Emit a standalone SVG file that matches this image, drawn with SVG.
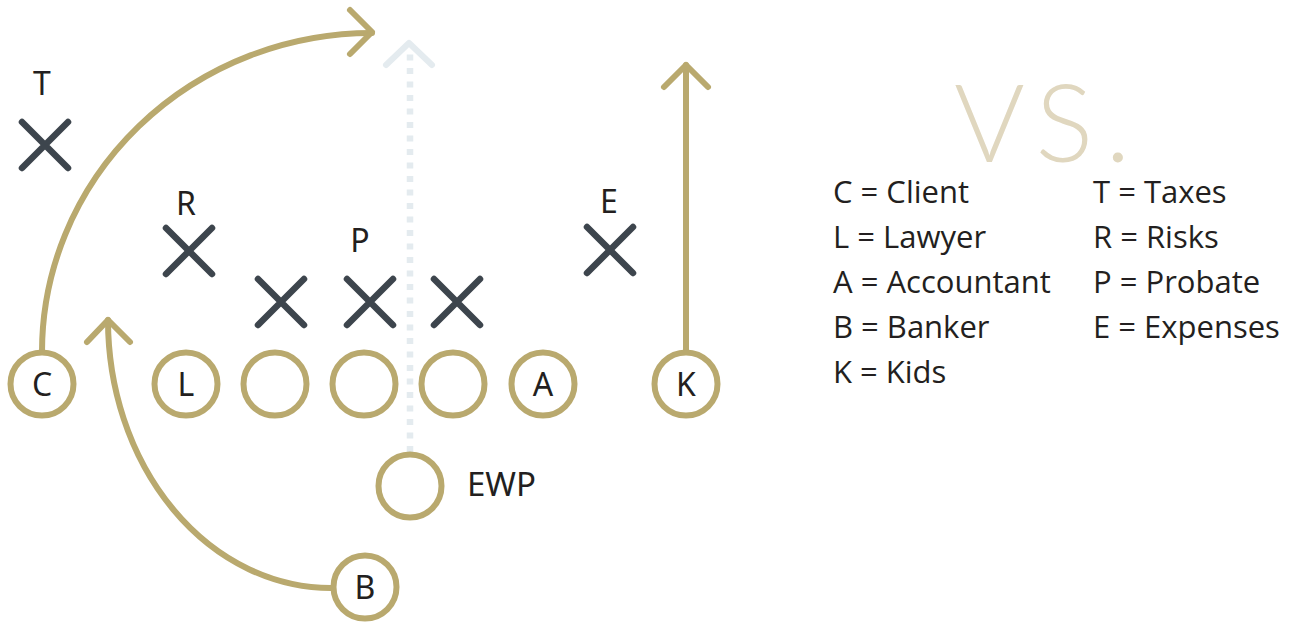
<svg xmlns="http://www.w3.org/2000/svg" width="1301" height="623" viewBox="0 0 1301 623">
  <style>
    .player { fill: #ffffff; stroke: #b9a96e; stroke-width: 6; }
    .route { fill: none; stroke: #b9a96e; stroke-width: 6; stroke-linecap: round; stroke-linejoin: round; }
    .defender { stroke: #3d454d; stroke-width: 6.5; stroke-linecap: round; }
    .dotted { fill: none; stroke: #e4ebef; stroke-width: 6.5; stroke-dasharray: 6 7.5; }
    .dotted-head { fill: none; stroke: #e4ebef; stroke-width: 6; stroke-linecap: round; stroke-linejoin: round; }
    .label { font-family: "Noto Sans", "Open Sans", sans-serif; font-size: 32px; fill: #231f20; text-anchor: middle; }
    .legend { font-family: "Open Sans", "Noto Sans", sans-serif; font-size: 31px; fill: #231f20; }
    .vs { font-family: "Lato", "Open Sans", sans-serif; font-weight: 300; font-size: 108px; letter-spacing: 12px; fill: #e0d7bf; }
  </style>

  <!-- routes -->
  <g id="connectors">
    <path class="dotted" d="M410,452 V48"/>
    <path class="dotted-head" d="M386,65 L409,43 L432,65"/>
    <path class="route" d="M42,352 A330,319 0 0 1 372,33"/>
    <path class="route" d="M350,10 L372,32 L350,54"/>
    <path class="route" d="M331,588 A223,268 0 0 1 108,320"/>
    <path class="route" d="M87,342 L108,320 L130,342"/>
    <path class="route" d="M686,352 V65"/>
    <path class="route" d="M664,87 L686,65 L708,87"/>
  </g>

  <!-- offense -->
  <g id="node-C"><circle class="player" cx="42" cy="384" r="31.5"/><text class="label" x="42" y="396">C</text></g>
  <g id="node-L"><circle class="player" cx="186" cy="384" r="31.5"/><text class="label" x="186" y="396">L</text></g>
  <g id="node-G1"><circle class="player" cx="275" cy="384" r="31.5"/></g>
  <g id="node-G2"><circle class="player" cx="364" cy="384" r="31.5"/></g>
  <g id="node-G3"><circle class="player" cx="453" cy="384" r="31.5"/></g>
  <g id="node-A"><circle class="player" cx="543" cy="384" r="31.5"/><text class="label" x="543" y="396">A</text></g>
  <g id="node-K"><circle class="player" cx="686" cy="384" r="31.5"/><text class="label" x="686" y="396">K</text></g>
  <g id="node-EWP"><circle class="player" cx="410" cy="486" r="31.5"/><text class="label" x="467" y="496" style="text-anchor:start;font-size:33px">EWP</text></g>
  <g id="node-B"><circle class="player" cx="365" cy="587" r="31.5"/><text class="label" x="365" y="599">B</text></g>

  <!-- defense -->
  <g id="node-T"><text class="label" x="42" y="95">T</text><path class="defender" d="M22,122 L68,168 M68,122 L22,168"/></g>
  <g id="node-R"><text class="label" x="186" y="215">R</text><path class="defender" d="M166,228 L212,274 M212,228 L166,274"/></g>
  <g id="node-X1"><path class="defender" d="M258,279 L304,325 M304,279 L258,325"/></g>
  <g id="node-P"><text class="label" x="360" y="252">P</text><path class="defender" d="M347,279 L393,325 M393,279 L347,325"/></g>
  <g id="node-X3"><path class="defender" d="M434,279 L480,325 M480,279 L434,325"/></g>
  <g id="node-E"><text class="label" x="609" y="213">E</text><path class="defender" d="M587,227 L633,273 M633,227 L587,273"/></g>

  <!-- key -->
  <g id="legend">
    <text class="vs" x="954" y="162">VS.</text>
    <text class="legend" x="833" y="203">C = Client</text>
    <text class="legend" x="833" y="248">L = Lawyer</text>
    <text class="legend" x="833" y="293">A = Accountant</text>
    <text class="legend" x="833" y="338">B = Banker</text>
    <text class="legend" x="833" y="383">K = Kids</text>
    <text class="legend" x="1093" y="203">T = Taxes</text>
    <text class="legend" x="1093" y="248">R = Risks</text>
    <text class="legend" x="1093" y="293">P = Probate</text>
    <text class="legend" x="1093" y="338">E = Expenses</text>
  </g>
</svg>
